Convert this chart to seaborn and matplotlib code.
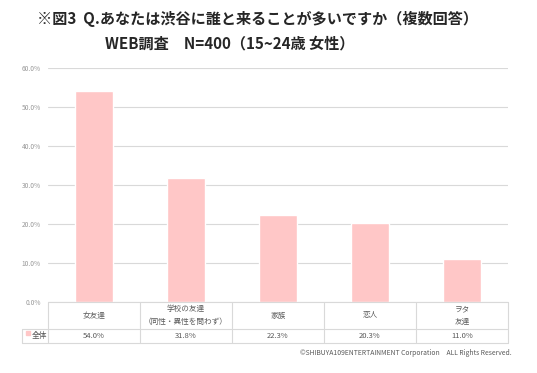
import matplotlib.pyplot as plt
import seaborn as sns
from matplotlib.lines import Line2D
from matplotlib.patches import Rectangle

# data
categories = ["女友達", "学校の友達\n（同性・異性を問わず）", "家族", "恋人", "ヲタ\n友達"]
values = [54.0, 31.8, 22.3, 20.3, 11.0]
value_labels = ["54.0%", "31.8%", "22.3%", "20.3%", "11.0%"]
series_name = "全体"
y_ticks = [0, 10, 20, 30, 40, 50, 60]

title_1 = "※図3  Q.あなたは渋谷に誰と来ることが多いですか（複数回答）"
title_2 = "WEB調査　N=400（15~24歳 女性）"
footer = "©SHIBUYA109ENTERTAINMENT Corporation　ALL Rights Reserved."

BAR = "#FFC7C7"
GRID = "#D9D9D9"
TXT = "#595959"

sns.set_theme(style="white")
plt.rcParams["font.family"] = ["Noto Sans CJK JP", "DejaVu Sans"]

W, H = 537, 373
fig = plt.figure(figsize=(W / 100, H / 100), dpi=100)
ax = fig.add_axes([48 / W, 1 - 302 / H, 460 / W, 234 / H])

sns.barplot(x=categories, y=values, color=BAR, width=0.41, saturation=1,
            errorbar=None, ax=ax, zorder=2)

ax.set_xlim(-0.5, len(categories) - 0.5)
ax.set_ylim(0, 60)
ax.set_yticks(y_ticks)
ax.set_yticklabels([f"{v:.1f}%" for v in y_ticks], fontsize=4.8, color="#999999")
ax.tick_params(axis="y", length=0, pad=5)
ax.set_xticks([])
ax.set_xlabel("")
ax.set_ylabel("")
ax.yaxis.grid(True, color=GRID, lw=0.8)
ax.set_axisbelow(True)
for s in ax.spines.values():
    s.set_visible(False)

# data table under the chart
r0, r1, r2 = 0, -27 / 234, -41 / 234
xl = -26 / 460
tr = ax.transAxes
segs = [
    ([0, 1], [r0, r0]),
    ([xl, 1], [r1, r1]),
    ([xl, 1], [r2, r2]),
    ([xl, xl], [r1, r2]),
]
for k in range(len(categories) + 1):
    x = k / len(categories)
    segs.append(([x, x], [r0, r2]))
for xs, ys in segs:
    ax.add_line(Line2D(xs, ys, transform=tr, color=GRID, lw=0.8, clip_on=False))

xt = ax.get_xaxis_transform()
for i, (cat, lab) in enumerate(zip(categories, value_labels)):
    ax.text(i, (r0 + r1) / 2, cat, transform=xt, ha="center", va="center",
            fontsize=5.5, color=TXT, linespacing=1.8)
    ax.text(i, (r1 + r2) / 2, lab, transform=xt, ha="center", va="center",
            fontsize=5.5, color=TXT)

ax.add_patch(Rectangle((-22 / 460, -33 / 234), 4 / 460, 4 / 234, transform=tr,
                       color=BAR, clip_on=False))
ax.text(-16 / 460, (r1 + r2) / 2, series_name, transform=tr, ha="left",
        va="center", fontsize=5.6, color=TXT)

fig.text(37 / W, 1 - 19 / H, title_1, fontsize=10.9, weight="bold", va="center")
fig.text(105 / W, 1 - 43 / H, title_2, fontsize=10.9, weight="bold", va="center")
fig.text(512 / W, 1 - 353 / H, footer, fontsize=4.9, color=TXT, ha="right", va="center")

fig.savefig("out.png", dpi=100)
